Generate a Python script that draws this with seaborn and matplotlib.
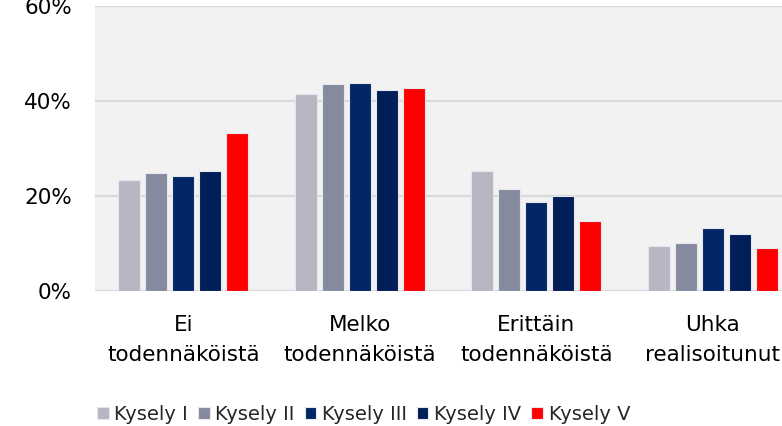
import matplotlib
matplotlib.use("Agg")
import matplotlib.pyplot as plt
from matplotlib.ticker import PercentFormatter
import pandas as pd
import seaborn as sns

# ── Data ─────────────────────────────────────────────────────────────────────
categories = ["Ei\ntodennäköistä", "Melko\ntodennäköistä",
              "Erittäin\ntodennäköistä", "Uhka\nrealisoitunut"]
series = ["Kysely I", "Kysely II", "Kysely III", "Kysely IV", "Kysely V"]
kysely_1 = [23.5, 41.5, 25.4, 9.6]
kysely_2 = [24.9, 43.6, 21.6, 10.2]
kysely_3 = [24.2, 43.8, 18.9, 13.4]
kysely_4 = [25.4, 42.5, 20.1, 12.1]
kysely_5 = [33.3, 42.8, 14.8, 9.2]
y_ticks = [0, 20, 40, 60]

PALETTE = ["#b7b7c4", "#858a9e", "#012766", "#001e58", "#ff0000"]
BG = "#f2f2f2"
GRID = "#d9d9d9"
FONT = "DejaVu Sans"
FS = 15.5

rows = []
for name, vals in zip(series, [kysely_1, kysely_2, kysely_3, kysely_4, kysely_5]):
    for cat, v in zip(categories, vals):
        rows.append({"category": cat, "series": name, "value": v})
df = pd.DataFrame(rows)

# ── Plot ─────────────────────────────────────────────────────────────────────
sns.set_style("white")
plt.rcParams["font.family"] = [FONT]

fig = plt.figure(figsize=(7.82, 4.26), dpi=100)
ax = fig.add_axes([0.1215, 0.316, 0.9028, 0.669])
ax.set_facecolor(BG)

sns.barplot(data=df, x="category", y="value", hue="series",
            order=categories, hue_order=series, palette=PALETTE,
            saturation=1, width=0.765, gap=0.2,
            edgecolor="#e6e6ee", linewidth=0.8, ax=ax, legend=True)

ax.set_ylim(0, 60)
ax.set_xlim(-0.5, 3.5)
ax.set_yticks(y_ticks)
ax.yaxis.set_major_formatter(PercentFormatter(decimals=0))
ax.grid(axis="y", color=GRID, linewidth=1.6, zorder=0)
ax.set_axisbelow(True)
for s in ax.spines.values():
    s.set_visible(False)
ax.set_xlabel("")
ax.set_ylabel("")
ax.tick_params(axis="y", length=0, pad=16.5, labelsize=FS, labelcolor="black")
ax.tick_params(axis="x", length=0, pad=17, labelsize=FS, labelcolor="black")
for lbl in ax.get_xticklabels():
    lbl.set_linespacing(1.6)

handles, labels = ax.get_legend_handles_labels()
ax.get_legend().remove()
fig.legend(handles, labels, loc="center left", bbox_to_anchor=(0.124, 0.028),
           ncol=5, frameon=False, fontsize=14, handlelength=0.6,
           handleheight=0.6, handletextpad=0.3, columnspacing=0.5,
           borderaxespad=0, borderpad=0)

fig.savefig("out.png", dpi=100, facecolor="white")
plt.close(fig)
